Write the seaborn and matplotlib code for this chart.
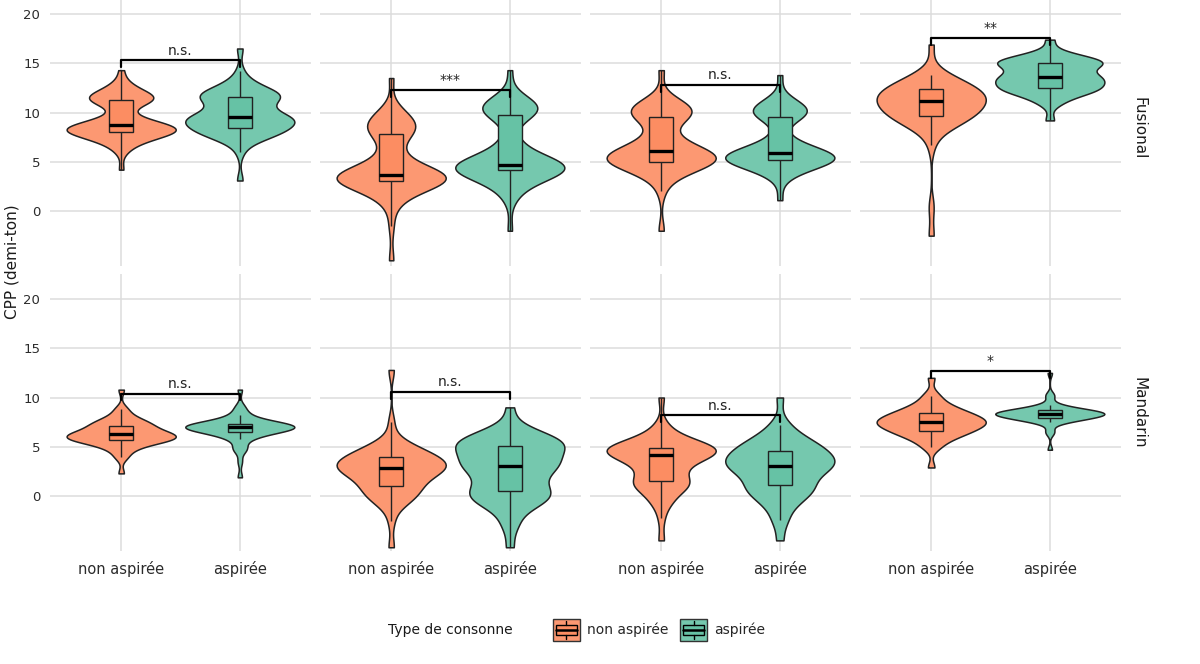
import pandas as pd
import seaborn as sns
import matplotlib.pyplot as plt
from matplotlib.patches import Rectangle
from matplotlib.lines import Line2D
from matplotlib.legend_handler import HandlerBase

sns.set_theme(style="white")
plt.rcParams['font.family'] = ['DejaVu Sans']

# Categories
types = ["non aspirée", "aspirée"]
langues = ["Fusional", "Mandarin"]
box_colors = ["#FC8D62", "#66C2A5"]
violin_colors = ["#FC9872", "#75C8AE"]

# CPP values, one list per column (1-4)
fus_non = [
    [4.2, 6.2, 7.0, 7.4, 7.7, 7.9, 8.1, 8.2, 8.3, 8.5, 8.6, 8.8, 9.0, 9.6, 10.8, 11.2, 11.4, 11.6, 11.8, 12.3, 13.0, 14.3],
    [-5.0, -1.5, 0.8, 2.0, 2.6, 2.9, 3.1, 3.3, 3.5, 3.6, 3.7, 4.0, 4.6, 6.0, 7.8, 8.2, 8.8, 9.4, 10.2, 13.5],
    [-2.0, 2.0, 3.6, 4.5, 4.8, 5.0, 5.3, 5.5, 5.8, 6.1, 6.5, 7.5, 9.2, 9.8, 10.3, 10.6, 11.2, 14.3],
    [-2.5, 0.4, 6.7, 8.5, 9.2, 9.6, 10.0, 10.2, 10.8, 11.2, 11.4, 11.6, 12.0, 12.4, 12.7, 13.2, 13.8, 16.9],
]
fus_asp = [
    [3.1, 6.0, 7.2, 7.8, 8.0, 8.3, 8.6, 9.0, 9.2, 9.4, 9.5, 9.8, 10.4, 11.0, 11.5, 11.7, 11.9, 12.2, 13.0, 14.2, 16.5],
    [-2.0, 1.5, 2.8, 3.5, 4.0, 4.2, 4.3, 4.5, 4.6, 4.7, 5.0, 5.6, 7.0, 9.8, 10.2, 10.5, 10.8, 11.3, 14.3],
    [1.1, 3.5, 4.4, 4.8, 5.0, 5.2, 5.4, 5.6, 5.8, 5.9, 6.3, 7.2, 9.4, 9.9, 10.3, 10.6, 11.3, 13.8],
    [9.2, 11.0, 11.8, 12.2, 12.5, 12.8, 13.2, 13.5, 13.7, 14.2, 14.8, 15.0, 15.2, 15.5, 16.0, 17.4],
]
man_non = [
    [2.3, 4.0, 4.8, 5.3, 5.6, 5.7, 5.8, 6.0, 6.2, 6.3, 6.4, 6.7, 7.0, 7.3, 7.5, 8.0, 8.8, 10.8],
    [-5.2, -2.5, -0.8, -0.2, 0.5, 1.0, 1.6, 2.2, 2.6, 2.8, 3.0, 3.3, 3.6, 4.0, 4.3, 4.8, 5.5, 7.5, 12.8],
    [-4.5, -2.2, -0.5, 0.8, 1.2, 1.5, 2.4, 3.2, 3.8, 4.2, 4.4, 4.6, 4.8, 5.0, 5.3, 5.8, 7.0, 10.0],
    [2.9, 5.0, 5.8, 6.3, 6.6, 6.9, 7.2, 7.4, 7.6, 7.8, 8.1, 8.4, 8.7, 9.3, 10.2, 12.0],
]
man_asp = [
    [1.9, 3.5, 4.8, 5.8, 6.3, 6.5, 6.7, 6.8, 6.9, 7.0, 7.1, 7.2, 7.3, 7.4, 7.6, 8.2, 9.0, 10.8],
    [-5.2, -2.8, -1.0, -0.3, 0.2, 0.6, 1.5, 2.4, 3.0, 3.2, 3.8, 4.4, 5.0, 5.4, 5.6, 6.0, 6.8, 9.0],
    [-4.5, -2.4, -0.8, 0.2, 0.7, 1.2, 2.0, 2.6, 3.0, 3.2, 3.6, 4.0, 4.4, 4.9, 5.3, 6.0, 7.2, 10.0],
    [4.7, 6.5, 7.5, 7.8, 7.9, 8.0, 8.2, 8.3, 8.3, 8.4, 8.5, 8.6, 8.7, 8.8, 9.2, 10.2, 12.5],
]

# how many observations sit at each value above (thin tails = few points)
fus_non_n = [
    [1, 2, 3, 3, 3, 3, 3, 3, 3, 3, 3, 3, 3, 3, 3, 3, 3, 3, 3, 3, 2, 1],
    [1, 1, 2, 3, 3, 3, 3, 3, 3, 3, 3, 3, 3, 3, 3, 3, 3, 3, 2, 1],
    [1, 1, 3, 3, 3, 3, 3, 3, 3, 3, 3, 3, 3, 3, 3, 3, 2, 1],
    [1, 1, 1, 3, 3, 3, 3, 3, 3, 3, 3, 3, 3, 3, 3, 3, 2, 1],
]
fus_asp_n = [
    [1, 1, 3, 3, 3, 3, 3, 3, 3, 3, 3, 3, 3, 3, 3, 3, 3, 3, 3, 1, 1],
    [1, 2, 3, 3, 3, 3, 3, 3, 3, 3, 3, 3, 3, 3, 3, 3, 3, 2, 1],
    [1, 2, 3, 3, 3, 3, 3, 3, 3, 3, 3, 3, 3, 3, 3, 3, 2, 1],
    [1, 2, 3, 3, 3, 3, 3, 3, 3, 3, 3, 3, 3, 3, 2, 1],
]
man_non_n = [
    [1, 2, 3, 3, 3, 3, 3, 3, 3, 3, 3, 3, 3, 3, 3, 3, 2, 1],
    [1, 1, 2, 3, 3, 3, 3, 3, 3, 3, 3, 3, 3, 3, 3, 3, 2, 1, 1],
    [1, 1, 3, 3, 3, 3, 3, 3, 3, 3, 3, 3, 3, 3, 3, 3, 2, 1],
    [1, 2, 3, 3, 3, 3, 3, 3, 3, 3, 3, 3, 3, 3, 2, 1],
]
man_asp_n = [
    [1, 1, 3, 3, 3, 3, 3, 3, 3, 3, 3, 3, 3, 3, 3, 3, 2, 1],
    [1, 2, 3, 3, 3, 3, 3, 3, 3, 3, 3, 3, 3, 3, 3, 3, 2, 1],
    [1, 2, 3, 3, 3, 3, 3, 3, 3, 3, 3, 3, 3, 3, 3, 3, 2, 1],
    [1, 2, 3, 3, 3, 3, 3, 3, 3, 3, 3, 3, 3, 3, 3, 2, 1],
]

# significance brackets
sig_y_fus = [15.3, 12.3, 12.8, 17.6]
sig_lab_fus = ["n.s.", "***", "n.s.", "**"]
sig_y_man = [10.4, 10.6, 8.2, 12.7]
sig_lab_man = ["n.s.", "n.s.", "n.s.", "*"]
yticks = [0, 5, 10, 15, 20]

# long data frame
rows = []
groups = [("Fusional", fus_non, fus_non_n, fus_asp, fus_asp_n),
          ("Mandarin", man_non, man_non_n, man_asp, man_asp_n)]
for langue, non, non_n, asp, asp_n in groups:
    for col in range(4):
        for v, n in zip(non[col], non_n[col]):
            rows += [(langue, col, "non aspirée", v)] * n
        for v, n in zip(asp[col], asp_n[col]):
            rows += [(langue, col, "aspirée", v)] * n
df = pd.DataFrame(rows, columns=["langue", "col", "type", "cpp"])

sig = {"Fusional": (sig_y_fus, sig_lab_fus), "Mandarin": (sig_y_man, sig_lab_man)}


class KeyHandle:
    def __init__(self, i):
        self.i = i


class BoxKey(HandlerBase):
    # ggplot-like boxplot key: filled square with a box glyph
    def create_artists(self, legend, orig_handle, xdescent, ydescent, width, height, fontsize, trans):
        i = orig_handle.i
        x0, y0 = -xdescent, -ydescent
        xm = x0 + width / 2
        arts = [
            Rectangle((x0, y0), width, height, facecolor=violin_colors[i], edgecolor="#333333", lw=1.0),
            Rectangle((x0 + width * 0.12, y0 + height * 0.25), width * 0.76, height * 0.5,
                      facecolor=box_colors[i], edgecolor="black", lw=1.0),
            Line2D([x0 + width * 0.12, x0 + width * 0.88], [y0 + height * 0.5] * 2, color="black", lw=1.8),
            Line2D([xm, xm], [y0 + height * 0.06, y0 + height * 0.25], color="black", lw=1.0),
            Line2D([xm, xm], [y0 + height * 0.75, y0 + height * 0.94], color="black", lw=1.0),
        ]
        for a in arts:
            a.set_transform(trans)
        return arts


fig = plt.figure(figsize=(12, 6.64), dpi=100)
W, H = 1200, 664
ylim = (-5.6, 22.5)
panel_tops = [-10.6, 274.4]
panel_h = 276.8
panel_lefts = [50, 320, 590, 860]
panel_w = 261

for r, langue in enumerate(langues):
    for c in range(4):
        ax = fig.add_axes([panel_lefts[c] / W, 1 - (panel_tops[r] + panel_h) / H,
                           panel_w / W, panel_h / H])
        sub = df[(df["langue"] == langue) & (df["col"] == c)]

        sns.violinplot(data=sub, x="type", y="cpp", hue="type", order=types, hue_order=types,
                       palette=violin_colors, saturation=1, inner=None, cut=0,
                       density_norm="area", width=0.92, bw_adjust=0.75,
                       linecolor="#222222", linewidth=1.1, legend=False, ax=ax)
        sns.boxplot(data=sub, x="type", y="cpp", hue="type", order=types, hue_order=types,
                    palette=box_colors, saturation=1, width=0.2, showcaps=False,
                    showfliers=False, linecolor="#222222", linewidth=1.0,
                    medianprops={"linewidth": 2.4, "color": "black"}, legend=False, ax=ax)

        # bracket + label
        y = sig[langue][0][c]
        ax.plot([0, 0, 1, 1], [y - 0.7, y, y, y - 0.7], color="black", lw=1.6, zorder=5)
        ax.text(0.5, y + 0.25, sig[langue][1][c], ha="center", va="bottom",
                fontsize=10, color="#222222")

        ax.set_xlim(-0.6, 1.6)
        ax.set_ylim(*ylim)
        ax.set_yticks(yticks)
        ax.set_xlabel("")
        ax.set_ylabel("")
        ax.grid(True, axis="both", color="#DCDCDC", linewidth=1.1)
        ax.set_axisbelow(True)
        for s in ax.spines.values():
            s.set_visible(False)
        ax.tick_params(length=0, labelsize=10.5, labelcolor="#2b2b2b", pad=7)
        ax.tick_params(axis="y", labelsize=9.5)
        if r == 0:
            ax.tick_params(labelbottom=False)
        if c > 0:
            ax.tick_params(labelleft=False)
        if c == 3:
            ax.text(1.07, 0.5, langue, transform=ax.transAxes, rotation=-90,
                    ha="center", va="center", fontsize=11, color="#1a1a1a")

fig.text(12 / W, 1 - 262 / H, "CPP (demi-ton)", rotation=90, ha="center", va="center",
         fontsize=11, color="#1a1a1a")

# legend
fig.text(388 / W, 1 - 630 / H, "Type de consonne", ha="left", va="center",
         fontsize=10, color="#1a1a1a")
fig.legend([KeyHandle(0), KeyHandle(1)], types, loc="center left",
           bbox_to_anchor=(540 / W, 1 - 630 / H), ncol=2, frameon=False, fontsize=10,
           handlelength=2, handleheight=2, columnspacing=0.8, handletextpad=0.5,
           handler_map={KeyHandle: BoxKey()})

fig.savefig("out.png", dpi=100)
